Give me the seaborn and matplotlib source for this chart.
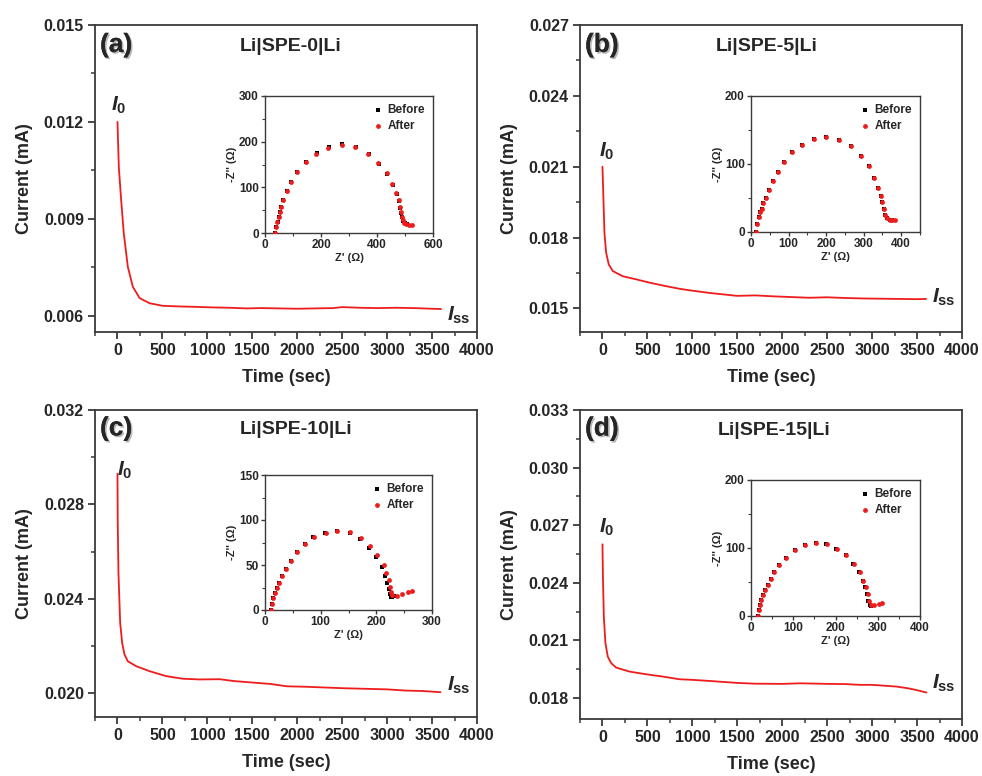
import numpy as np
import pandas as pd
import matplotlib
matplotlib.use("Agg")
import matplotlib.pyplot as plt
import matplotlib.patheffects as pe
from matplotlib.ticker import MultipleLocator, FormatStrFormatter
import seaborn as sns

# ---------------- data: chronoamperometry ----------------
t_a = [0, 15, 41, 70, 115, 171, 246, 357, 506, 692, 850, 1064, 1250, 1436, 1600, 1800,
       2000, 2200, 2400, 2500, 2700, 2900, 3100, 3300, 3500, 3600]
i_a = [0.0120, 0.01061, 0.00958, 0.00856, 0.00752, 0.00690, 0.00655, 0.00639, 0.00631,
       0.00629, 0.00628, 0.00626, 0.00625, 0.00623, 0.00624, 0.00623, 0.00622, 0.00623,
       0.00624, 0.00627, 0.00625, 0.00624, 0.00625, 0.00624, 0.00622, 0.00621]

t_b = [0, 11, 22, 41, 70, 115, 226, 375, 523, 709, 857, 1000, 1200, 1400, 1500, 1700,
       1900, 2100, 2300, 2500, 2700, 2900, 3100, 3300, 3500, 3600]
i_b = [0.0210, 0.0196, 0.0182, 0.01735, 0.01686, 0.01658, 0.01636, 0.01623, 0.01609,
       0.01594, 0.01583, 0.01575, 0.01565, 0.01557, 0.01553, 0.01555, 0.01551, 0.01548,
       0.01545, 0.01547, 0.01544, 0.01542, 0.01541, 0.01540, 0.01539, 0.01540]

t_c = [0, 3, 11, 30, 52, 78, 115, 209, 357, 543, 729, 915, 1138, 1300, 1500, 1700, 1886,
       2100, 2300, 2500, 2700, 3002, 3200, 3400, 3594]
i_c = [0.0293, 0.0272, 0.0251, 0.02299, 0.02214, 0.02165, 0.02136, 0.02115, 0.02094,
       0.02073, 0.02062, 0.02059, 0.02060, 0.02052, 0.02046, 0.02040, 0.02030, 0.02028,
       0.02025, 0.02022, 0.02020, 0.02017, 0.02012, 0.02010, 0.02005]

t_d = [0, 5, 15, 33, 59, 97, 152, 301, 487, 672, 858, 1000, 1200, 1500, 1700, 2000, 2200,
       2500, 2700, 2862, 3000, 3271, 3400, 3500, 3605]
i_d = [0.0260, 0.02432, 0.02224, 0.02085, 0.02015, 0.01981, 0.01958, 0.01937, 0.01923,
       0.01911, 0.01897, 0.01894, 0.01888, 0.01878, 0.01874, 0.01873, 0.01876, 0.01873,
       0.01872, 0.01868, 0.01868, 0.01859, 0.01850, 0.01840, 0.01828]

# ---------------- data: Nyquist insets ----------------
za_before_x = [37, 40, 45, 50, 53, 58, 66, 79, 94, 116, 146, 184, 228, 276, 325, 370, 408,
               437, 457, 471, 479, 483, 487, 490, 494, 500, 508]
za_before_y = [0, 13, 24, 35, 46, 58, 73, 92, 112, 134, 155, 175, 188, 194, 188, 173, 152,
               129, 106, 86, 70, 55, 44, 34, 26, 21, 19]
za_after_x = [36, 39, 44, 49, 52, 57, 65, 78, 93, 115, 145, 183, 226, 274, 322, 367, 404,
              434, 454, 469, 477, 481, 485, 488, 492, 497, 505, 515, 525]
za_after_y = [0, 13, 24, 35, 46, 58, 73, 92, 112, 134, 155, 174, 187, 193, 188, 174, 154,
              131, 108, 88, 72, 57, 46, 36, 28, 22, 19, 18, 18]

zb_before_x = [14, 17, 21, 24, 29, 33, 39, 47, 59, 72, 88, 110, 136, 168, 201, 234, 265,
               292, 314, 328, 339, 345, 349, 353, 356, 361, 369, 376]
zb_before_y = [0, 12, 22, 29, 34, 42, 50, 62, 75, 88, 103, 117, 128, 137, 140, 136, 126,
               112, 97, 80, 65, 53, 44, 34, 25, 20, 17, 17]
zb_after_x = [14, 17, 21, 24, 29, 33, 39, 47, 59, 72, 88, 110, 136, 168, 201, 234, 265,
              292, 314, 328, 339, 345, 349, 353, 356, 361, 369, 376, 383]
zb_after_y = [0, 12, 22, 29, 34, 42, 50, 62, 75, 88, 103, 117, 128, 137, 140, 136, 126,
              112, 97, 80, 65, 53, 44, 34, 25, 20, 17, 17, 17]

zc_before_x = [10, 13, 15, 18, 21, 25, 31, 37, 46, 57, 71, 87, 108, 130, 152, 171, 187,
               200, 210, 216, 220, 222, 224, 226, 228, 231]
zc_before_y = [0, 7, 13, 18.5, 24, 30, 38, 45.5, 55, 64, 73, 81, 86, 88, 86, 79, 69, 59,
               48, 38, 30, 23, 18, 15, 15, 16]
zc_after_x = [10, 13, 15, 18, 21, 25, 31, 37, 46, 57, 71, 87.5, 109, 130, 153, 173, 189,
              202, 213, 218, 222, 224.5, 227, 229, 238, 247, 256, 264]
zc_after_y = [0, 7, 13, 18.5, 24, 30, 38, 45.5, 55, 64, 73, 81, 86, 88, 87, 80, 71, 61,
              50, 41, 33, 26, 20, 17, 15.5, 18, 20, 21.5]

zd_before_x = [16, 18, 21, 24, 28.5, 34, 40, 47.5, 55, 67, 83, 104, 127.5, 153, 178, 202,
               224, 242, 255, 264, 270, 274, 278, 281, 285]
zd_before_y = [0, 9, 16, 23.5, 31, 38, 46, 54, 64, 75, 86, 97, 105, 108, 106, 99, 89, 76,
               64, 52, 42, 32, 22, 16, 15]
zd_after_x = [16, 18, 21, 24, 28.5, 34, 40, 47.5, 55, 67, 83, 104, 127.5, 153, 179, 204,
              226, 244, 257, 266, 272, 276, 280, 283.5, 291, 303, 311]
zd_after_y = [0, 9, 16, 23.5, 31, 38, 46, 54, 64, 75, 86, 97, 105, 108, 106, 99, 89, 76,
              64, 52, 42, 32, 22.5, 16, 16, 17.6, 18.6]

panel_labels = ["(a)", "(b)", "(c)", "(d)"]
cell_names = ["Li|SPE-0|Li", "Li|SPE-5|Li", "Li|SPE-10|Li", "Li|SPE-15|Li"]

# ---------------- style ----------------
sns.set_style("ticks")
plt.rcParams["font.family"] = ["Liberation Sans", "DejaVu Sans"]
plt.rcParams["font.weight"] = "bold"
plt.rcParams["axes.labelweight"] = "bold"
plt.rcParams["mathtext.fontset"] = "custom"
plt.rcParams["mathtext.it"] = "Liberation Sans:italic:bold"
plt.rcParams["mathtext.rm"] = "Liberation Sans:bold"
plt.rcParams["mathtext.bf"] = "Liberation Sans:bold"

SPINE = "#3a3a3a"
RED = "#ee1c1c"

fig = plt.figure(figsize=(9.82, 7.76), dpi=100)

main_pos = [
    [95 / 982, 1 - 332 / 776, 382 / 982, 307 / 776],
    [580 / 982, 1 - 332 / 776, 382 / 982, 307 / 776],
    [95 / 982, 1 - 717 / 776, 382 / 982, 307 / 776],
    [580 / 982, 1 - 719 / 776, 382 / 982, 309 / 776],
]
inset_pos = [
    [265 / 982, 1 - 233 / 776, 168 / 982, 137 / 776],
    [751 / 982, 1 - 232 / 776, 169 / 982, 136 / 776],
    [265 / 982, 1 - 610 / 776, 167 / 982, 135 / 776],
    [751 / 982, 1 - 616 / 776, 169 / 982, 136 / 776],
]

curves = [(t_a, i_a), (t_b, i_b), (t_c, i_c), (t_d, i_d)]
ylims = [(0.0055, 0.015), (0.0140, 0.027), (0.019, 0.032), (0.0169, 0.033)]
ymaj = [0.003, 0.003, 0.004, 0.003]
yticks_list = [
    [0.006, 0.009, 0.012, 0.015],
    [0.015, 0.018, 0.021, 0.024, 0.027],
    [0.020, 0.024, 0.028, 0.032],
    [0.018, 0.021, 0.024, 0.027, 0.030, 0.033],
]
i0_pos = [(-70, 0.01252), (-40, 0.02163), (0, 0.02946), (-40, 0.02691)]
iss_pos = [(3670, 0.00600), (3665, 0.01545), (3670, 0.02034), (3665, 0.01878)]
label_y = [0.935, 0.935, 0.94, 0.94]
title_x = [0.38, 0.356, 0.38, 0.361]

nyq = [
    (za_before_x, za_before_y, za_after_x, za_after_y),
    (zb_before_x, zb_before_y, zb_after_x, zb_after_y),
    (zc_before_x, zc_before_y, zc_after_x, zc_after_y),
    (zd_before_x, zd_before_y, zd_after_x, zd_after_y),
]
ins_xlim = [(0, 600), (0, 450), (0, 300), (0, 400)]
ins_xmaj = [200, 100, 100, 100]
ins_ylim = [(0, 300), (0, 200), (0, 150), (0, 200)]
ins_ymaj = [100, 100, 50, 100]


def style_axes(ax, lw=1.3):
    for s in ax.spines.values():
        s.set_visible(True)
        s.set_color(SPINE)
        s.set_linewidth(lw)


shadow = [pe.withSimplePatchShadow(offset=(1.5, -1.5), shadow_rgbFace="#888888",
                                   alpha=0.6)]
shadow = [pe.SimpleLineShadow(offset=(1.5, -1.5))]

for k in range(4):
    ax = fig.add_axes(main_pos[k])
    t, cur = curves[k]
    df = pd.DataFrame({"Time": t, "Current": cur})
    sns.lineplot(data=df, x="Time", y="Current", ax=ax, color=RED, linewidth=1.3,
                 estimator=None, sort=False)
    ax.set_xlim(-250, 4000)
    ax.set_ylim(*ylims[k])
    ax.xaxis.set_major_locator(MultipleLocator(500))
    ax.xaxis.set_minor_locator(MultipleLocator(250))
    ax.set_yticks(yticks_list[k])
    ax.yaxis.set_minor_locator(MultipleLocator(ymaj[k] / 2))
    ax.yaxis.set_major_formatter(FormatStrFormatter("%.3f"))
    ax.tick_params(which="major", direction="out", length=5, width=1.3, color=SPINE,
                   labelsize=11.5, pad=3)
    ax.tick_params(which="minor", direction="out", length=3, width=1.1, color=SPINE)
    for lab in ax.get_xticklabels() + ax.get_yticklabels():
        lab.set_fontweight("bold")
    ax.set_xlabel("Time (sec)", fontsize=13, fontweight="bold", labelpad=8)
    ax.set_ylabel("Current (mA)", fontsize=13, fontweight="bold", labelpad=8)
    style_axes(ax)

    ax.text(0.013, label_y[k], panel_labels[k], transform=ax.transAxes, fontsize=19,
            fontweight="bold", ha="left", va="center",
            path_effects=[pe.withSimplePatchShadow(offset=(1.2, -1.2),
                                                   shadow_rgbFace="#999999", alpha=0.7),
                          pe.Normal()])
    ax.text(title_x[k], label_y[k] - 0.005, cell_names[k], transform=ax.transAxes,
            fontsize=14, fontweight="bold", ha="left", va="center")
    ax.text(i0_pos[k][0], i0_pos[k][1], r"$I_{\mathrm{0}}$", fontsize=15,
            ha="left", va="center")
    ax.text(iss_pos[k][0], iss_pos[k][1], r"$I_{\mathrm{ss}}$", fontsize=15,
            ha="left", va="center")

    # inset
    ins = fig.add_axes(inset_pos[k])
    bx, by, axx, ayy = nyq[k]
    df_b = pd.DataFrame({"Zre": bx, "Zim": by})
    df_f = pd.DataFrame({"Zre": axx, "Zim": ayy})
    sns.scatterplot(data=df_b, x="Zre", y="Zim", color="black", marker="s", s=7,
                    linewidth=0, ax=ins, label="Before", zorder=2)
    sns.scatterplot(data=df_f, x="Zre", y="Zim", color=RED, marker="o", s=12,
                    linewidth=0, ax=ins, label="After", zorder=3)
    ins.set_xlim(*ins_xlim[k])
    ins.set_ylim(*ins_ylim[k])
    ins.xaxis.set_major_locator(MultipleLocator(ins_xmaj[k]))
    ins.xaxis.set_minor_locator(MultipleLocator(ins_xmaj[k] / 2))
    ins.yaxis.set_major_locator(MultipleLocator(ins_ymaj[k]))
    ins.yaxis.set_minor_locator(MultipleLocator(ins_ymaj[k] / 2))
    ins.tick_params(which="major", direction="out", length=3, width=1.0, color=SPINE,
                    labelsize=8.5, pad=1.5)
    ins.tick_params(which="minor", direction="out", length=2, width=0.8, color=SPINE)
    for lab in ins.get_xticklabels() + ins.get_yticklabels():
        lab.set_fontweight("bold")
    ins.set_xlabel("Z' (\u03a9)", fontsize=8, fontweight="bold", labelpad=1)
    ins.set_ylabel("-Z'' (\u03a9)", fontsize=8, fontweight="bold", labelpad=1)
    style_axes(ins, lw=1.0)
    leg = ins.legend(loc="upper right", frameon=False, fontsize=8.5, handletextpad=0.3,
                     borderaxespad=0.3, labelspacing=0.3, markerscale=1.0,
                     handlelength=1.0)
    for txt in leg.get_texts():
        txt.set_fontweight("bold")

fig.savefig("out.png", dpi=100)
